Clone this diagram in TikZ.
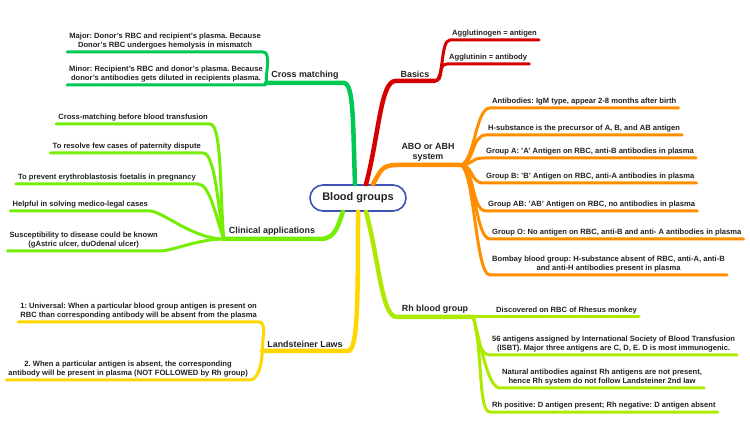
\documentclass[tikz,border=0pt]{standalone}
\usepackage{fontspec}
\setmainfont{Liberation Sans}
\usepackage{tikz}
\frenchspacing
\definecolor{rootblue}{RGB}{63,81,181}
\definecolor{cmgreen}{RGB}{0,200,83}
\definecolor{bsred}{RGB}{213,0,0}
\definecolor{aboorange}{RGB}{255,143,0}
\definecolor{cllime}{RGB}{118,238,3}
\definecolor{lsgold}{RGB}{255,214,0}
\definecolor{rhgreen}{RGB}{174,234,0}
\definecolor{txt}{RGB}{34,34,34}
\tikzset{rootbox/.style={draw=rootblue, line width=1.6pt, fill=white, rounded corners=13pt, minimum width=96pt, minimum height=26pt, text=txt, font=\fontsize{11}{13}\selectfont\bfseries}}
\tikzset{topic/.style={inner xsep=5pt, inner ysep=3pt, align=center, text=txt, font=\fontsize{8.9}{10.5}\selectfont\bfseries}}
\tikzset{leaf/.style={inner xsep=2pt, inner ysep=2.5pt, align=center, text=txt, font=\fontsize{7.6}{9}\selectfont\bfseries}}
\tikzset{mainline/.style={line width=4.5pt, line cap=round}, subline/.style={line width=3pt, line cap=round}}

\begin{document}
\begin{tikzpicture}[x=1pt,y=1pt]
    \useasboundingbox (0,0) rectangle (750,-438);
    \node[rootbox] (root) at (358,-198) {Blood groups};

    % cross matching
    \node[topic, anchor=south] (cm) at (305,-83) {Cross matching};
    \draw[mainline, cmgreen] ([xshift=-3pt]root.north) to[out=92, in=0, out distance=60pt, in distance=10pt] (cm.south east) -- (cm.south west);
    \node[leaf, anchor=south east] (cmA) at (263,-52) {Major: Donor's RBC and recipient's plasma. Because\\Donor's RBC undergoes hemolysis in mismatch};
    \node[leaf, anchor=south east] (cmB) at (265,-85) {Minor: Recipient's RBC and donor's plasma. Because\\donor's antibodies gets diluted in recipients plasma.};
    \draw[subline, cmgreen] (cm.south west) to[out=90, in=0, in distance=8pt] (cmA.south east) -- (cmA.south west);
    \draw[subline, cmgreen] (cm.south west) to[out=180, in=0] (cmB.south east) -- (cmB.south west);

    % basics
    \node[topic, anchor=south] (bs) at (415,-81) {Basics};
    \draw[mainline, bsred] ([xshift=8pt]root.north) to[out=75, in=180, out distance=50pt, in distance=15pt] (bs.south west) -- (bs.south east);
    \node[leaf, anchor=south west] (bs1) at (450,-40) {Agglutinogen = antigen};
    \node[leaf, anchor=south west] (bs2) at (447,-64) {Agglutinin = antibody};
    \foreach \n in {1,2}{
        \draw[subline, bsred] (bs.south east) to[out=0, in=180, out distance=10pt, in distance=10pt] (bs\n.south west) -- (bs\n.south east);
    }

    % ABO system
    \node[topic, anchor=south] (abo) at (428,-165) {ABO or ABH\\system};
    \draw[mainline, aboorange] ([xshift=15pt]root.north) to[out=60, in=180, out distance=15pt, in distance=15pt] (abo.south west) -- (abo.south east);
    \foreach \x/\y/\txt [count=\n] in {
        490/108/{Antibodies: IgM type, appear 2-8 months after birth},
        486/135/{H-substance is the precursor of A, B, and AB antigen},
        484/158/{Group A: 'A' Antigen on RBC, anti-B antibodies in plasma},
        484/183/{Group B: 'B' Antigen on RBC, anti-A antibodies in plasma},
        486/211/{Group AB: 'AB' Antigen on RBC, no antibodies in plasma},
        490/239/{Group O: No antigen on RBC, anti-B and anti- A antibodies in plasma},
        490/275/{Bombay blood group: H-substance absent of RBC, anti-A, anti-B\\and anti-H antibodies present in plasma}}{
        \node[leaf, anchor=south west] (ab\n) at (\x,-\y) {\txt};
        \draw[subline, aboorange] (abo.south east) to[out=0, in=180, out distance=15pt, in distance=15pt] (ab\n.south west) -- (ab\n.south east);
    }

    % clinical applications
    \node[topic, anchor=south] (cl) at (272,-239) {Clinical applications};
    \draw[mainline, cllime] ([xshift=-15pt]root.south) to[out=-110, in=0, out distance=15pt, in distance=15pt] (cl.south east) -- (cl.south west);
    \foreach \x/\y/\a/\txt [count=\n] in {
        210/124/95/{Cross-matching before blood transfusion},
        203/153/100/{To resolve few cases of paternity dispute},
        198/184/110/{To prevent erythroblastosis foetalis in pregnancy},
        150/211/180/{Helpful in solving medico-legal cases},
        160/251/180/{Susceptibility to disease could be known\\(gAstric ulcer, duOdenal ulcer)}}{
        \node[leaf, anchor=south east] (cl\n) at (\x,-\y) {\txt};
        \draw[subline, cllime] (cl.south west) to[out=\a, in=0, in distance=12pt] (cl\n.south east) -- (cl\n.south west);
    }

    % landsteiner laws
    \node[topic, anchor=south] (ls) at (305,-351) {Landsteiner Laws};
    \draw[mainline, lsgold] (root.south) to[out=-90, in=0, out distance=90pt, in distance=10pt] (ls.south east) -- (ls.south west);
    \node[leaf, anchor=south east] (ls1) at (259,-322) {1: Universal: When a particular blood group antigen is present on\\RBC than corresponding antibody will be absent from the plasma};
    \node[leaf, anchor=south east] (ls2) at (250,-380) {2. When a particular antigen is absent, the corresponding\\antibody will be present in plasma (NOT FOLLOWED by Rh group)};
    \draw[subline, lsgold] (ls.south west) to[out=90, in=0, in distance=8pt] (ls1.south east) -- (ls1.south west);
    \draw[subline, lsgold] (ls.south west) to[out=-90, in=0, in distance=8pt] (ls2.south east) -- (ls2.south west);

    % Rh blood group
    \node[topic, anchor=south] (rh) at (435,-317) {Rh blood group};
    \draw[mainline, rhgreen] ([xshift=8pt]root.south) to[out=-75, in=180, out distance=50pt, in distance=15pt] (rh.south west) -- (rh.south east);
    \node[leaf, anchor=south west] (rh1) at (494,-317) {Discovered on RBC of Rhesus monkey};
    \draw[subline, rhgreen] (rh.south east) -- (rh1.south west) -- (rh1.south east);
    \foreach \x/\y/\txt [count=\n from 2] in {
        490/355/{56 antigens assigned by International Society of Blood Transfusion\\(ISBT). Major three antigens are C, D, E. D is most immunogenic.},
        500/388/{Natural antibodies against Rh antigens are not present,\\hence Rh system do not follow Landsteiner 2nd law},
        490/412/{Rh positive: D antigen present; Rh negative: D antigen absent}}{
        \node[leaf, anchor=south west] (rh\n) at (\x,-\y) {\txt};
        \draw[subline, rhgreen] (rh.south east) to[out=-75, in=180, in distance=12pt] (rh\n.south west) -- (rh\n.south east);
    }
\end{tikzpicture}
\end{document}
